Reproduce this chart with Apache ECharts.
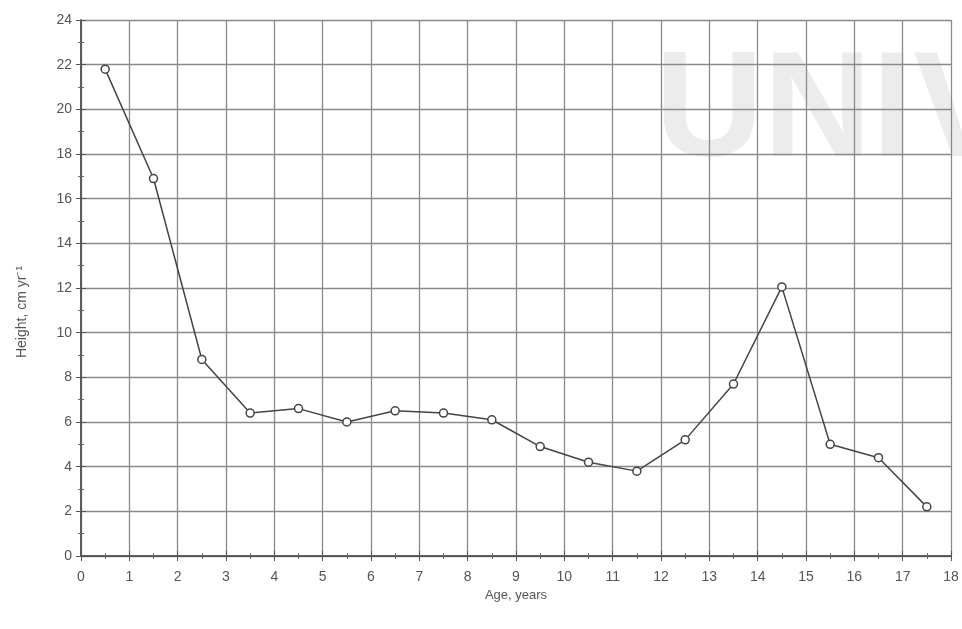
<!DOCTYPE html>
<html><head><meta charset="utf-8">
<script src="https://cdn.jsdelivr.net/npm/echarts@6/dist/echarts.min.js"></script>
<style>html,body{margin:0;padding:0;background:#fff}#c{width:962px;height:629px}</style>
</head><body><div id="c"></div>
<script>
const ages = [0.5,1.5,2.5,3.5,4.5,5.5,6.5,7.5,8.5,9.5,10.5,11.5,12.5,13.5,14.5,15.5,16.5,17.5];
const heights = [21.8,16.9,8.8,6.4,6.6,6.0,6.5,6.4,6.1,4.9,4.2,3.8,5.2,7.7,12.05,5.0,4.4,2.2];
const xTicks = {min:0, max:18, interval:1};
const yTicks = {min:0, max:24, interval:2};

const chart = echarts.init(document.getElementById('c'));
const FONT = 'Liberation Sans, Arial, sans-serif';
const txt = {color:'#555', fontFamily:FONT, fontSize:14};
const axisBase = {
  axisLine:{show:true, lineStyle:{color:'#555', width:1.5}},
  axisTick:{show:true, inside:true, length:5, lineStyle:{color:'#555'}},
  minorTick:{show:true, splitNumber:2, length:3, lineStyle:{color:'#666'}},
  splitLine:{show:true, lineStyle:{color:'#8a8a8a', width:1.3}}
};
chart.setOption({
  animation:false,
  graphic:[
    {type:'text', left:655, top:40, z:-10, silent:true,
      style:{text:'UNIV', fontSize:150, fontWeight:'bold', fontFamily:FONT, fill:'#ececec'}},
    {type:'text', x:22, y:312, rotation:Math.PI/2, silent:true,
      style:{text:'Height, cm yr\u207B\u00B9', fontSize:14, fontFamily:FONT, fill:'#555', align:'center', verticalAlign:'middle'}}
  ],
  grid:{left:81, right:11, top:20, bottom:73, containLabel:false},
  xAxis:[
    Object.assign({type:'value', position:'bottom', min:xTicks.min, max:xTicks.max, interval:xTicks.interval,
      name:'Age, years', nameLocation:'middle', nameGap:30, nameTextStyle:Object.assign({},txt,{fontSize:13}),
      axisLabel:Object.assign({},txt,{margin:14})}, axisBase),
    Object.assign({type:'value', position:'top', min:xTicks.min, max:xTicks.max, interval:xTicks.interval,
      axisLabel:{show:false}}, axisBase, {splitLine:{show:false}})
  ],
  yAxis:[
    Object.assign({type:'value', position:'left', min:yTicks.min, max:yTicks.max, interval:yTicks.interval,
      axisLabel:Object.assign({},txt,{margin:9})}, axisBase),
    Object.assign({type:'value', position:'right', min:yTicks.min, max:yTicks.max, interval:yTicks.interval,
      axisLabel:{show:false}}, axisBase, {splitLine:{show:false}})
  ],
  series:[{
    type:'line', xAxisIndex:0, yAxisIndex:0,
    data: ages.map((a,i)=>[a, heights[i]]),
    symbol:'circle', symbolSize:8, showAllSymbol:true,
    lineStyle:{color:'#444', width:1.5},
    itemStyle:{color:'#fff', borderColor:'#444', borderWidth:1.5}
  }]
});
</script></body></html>
